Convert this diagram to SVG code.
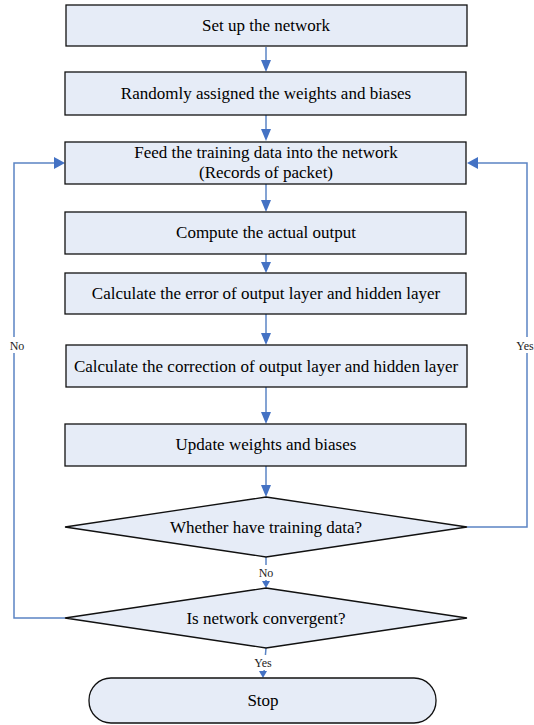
<svg xmlns="http://www.w3.org/2000/svg" width="534" height="725" viewBox="0 0 534 725">
<style>
.n{fill:#e6ecf7;stroke:#111;stroke-width:1.3}
.t{font-family:"Liberation Serif","Times New Roman",serif;font-size:17px;fill:#000;text-anchor:middle}
.l{font-family:"Liberation Serif","Times New Roman",serif;font-size:12px;fill:#222;text-anchor:middle}
.c{fill:none;stroke:#5b84c4;stroke-width:1.5}
.h{fill:#4472c4}
</style>
<rect width="534" height="725" fill="#fff"/>
<g id="connectors">
<line class="c" x1="266" y1="47" x2="266" y2="62"/><polygon class="h" points="261,60 271,60 266,72"/>
<line class="c" x1="266" y1="115" x2="266" y2="131"/><polygon class="h" points="261,129 271,129 266,141"/>
<line class="c" x1="266" y1="184" x2="266" y2="202"/><polygon class="h" points="261,200 271,200 266,212"/>
<line class="c" x1="266" y1="254" x2="266" y2="264"/><polygon class="h" points="261,262 271,262 266,273"/>
<line class="c" x1="266" y1="314" x2="266" y2="336"/><polygon class="h" points="261,333 271,333 266,345"/>
<line class="c" x1="266" y1="387" x2="266" y2="414"/><polygon class="h" points="261,412 271,412 266,424"/>
<line class="c" x1="266" y1="466" x2="266" y2="487"/><polygon class="h" points="261,485 271,485 266,497"/>
<line class="c" x1="266" y1="557" x2="266" y2="582"/><polygon class="h" points="262,581 270,581 266,588"/>
<line class="c" x1="266" y1="648" x2="264" y2="672"/><polygon class="h" points="259,671 267,671 263,678"/>
<polyline class="c" points="65,618 14,618 14,163 56,163"/><polygon class="h" points="54,157 54,169 65,163"/>
<polyline class="c" points="467,527 527,527 527,163 476,163"/><polygon class="h" points="478,157 478,169 467,163"/>
<rect x="7" y="337" width="20" height="16" fill="#fff"/>
<text class="l" x="17" y="350">No</text>
<rect x="513" y="337" width="21" height="16" fill="#fff"/>
<text class="l" x="525" y="350">Yes</text>
<rect x="254" y="565" width="24" height="15" fill="#fff"/>
<text class="l" x="266" y="577">No</text>
<rect x="250" y="655" width="26" height="15" fill="#fff"/>
<text class="l" x="263" y="667">Yes</text>
</g>
<g id="n1"><rect class="n" x="66" y="5" width="401" height="41"/><text class="t" x="266" y="31">Set up the network</text></g>
<g id="n2"><rect class="n" x="65" y="72" width="401" height="43"/><text class="t" x="266" y="99">Randomly assigned the weights and biases</text></g>
<g id="n3"><rect class="n" x="65" y="142" width="401" height="42"/><text class="t" x="266" y="158">Feed the training data into the network</text><text class="t" x="266" y="178">(Records of packet)</text></g>
<g id="n4"><rect class="n" x="65" y="212" width="401" height="42"/><text class="t" x="266" y="238">Compute the actual output</text></g>
<g id="n5"><rect class="n" x="65" y="273" width="401" height="41"/><text class="t" x="266" y="299">Calculate the error of output layer and hidden layer</text></g>
<g id="n6"><rect class="n" x="66" y="345" width="401" height="42"/><text class="t" x="266" y="372">Calculate the correction of output layer and hidden layer</text></g>
<g id="n7"><rect class="n" x="65" y="424" width="401" height="42"/><text class="t" x="266" y="450">Update weights and biases</text></g>
<g id="n8"><polygon class="n" points="266,497 467,527 266,557 65,527"/><text class="t" x="266" y="533">Whether have training data?</text></g>
<g id="n9"><polygon class="n" points="266,588 467,618 266,648 65,618"/><text class="t" x="266" y="624">Is network convergent?</text></g>
<g id="n10"><rect class="n" x="89" y="678" width="347" height="45" rx="22" ry="22"/><text class="t" x="263" y="706">Stop</text></g>
</svg>
